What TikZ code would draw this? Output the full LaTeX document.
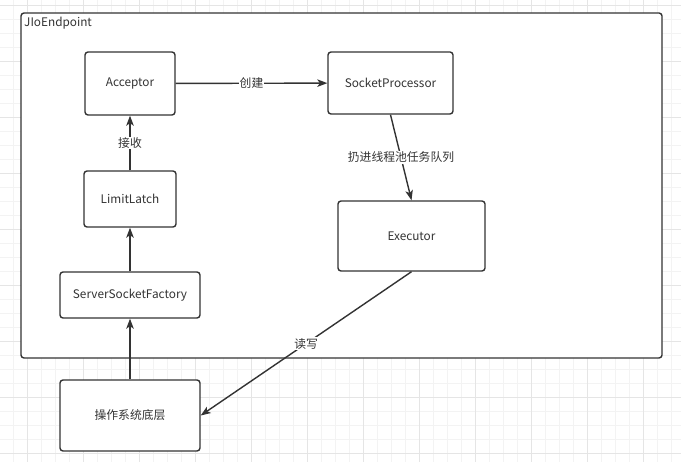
\documentclass[tikz,border=0pt]{standalone}
\usepackage{fontspec}
\setmainfont{Noto Sans CJK SC}
\usepackage{xcolor}
\usetikzlibrary{arrows.meta}
\definecolor{inkgray}{HTML}{333333}
\definecolor{gridminor}{HTML}{F3F3F3}
\definecolor{gridmajor}{HTML}{E5E5E5}
\tikzset{
	box/.style={
			draw=inkgray, line width=1.4bp, rounded corners=3bp, fill=white,
			text=inkgray, inner sep=0pt
		},
	flow/.style={
			draw=inkgray, line width=1.4bp,
			-{Stealth[length=10bp, width=7.5bp, inset=2.5bp]}
		},
	tag/.style={fill=white, text=inkgray, inner sep=1bp}
}

\begin{document}
\begin{tikzpicture}[x=1bp, y=-1bp, font=\fontsize{11.8bp}{14bp}\selectfont]
		\useasboundingbox (0,0) rectangle (681,462);
		\fill [white] (0,0) rectangle (681,462);

		% grid of the canvas
		\foreach \gx in {13,27,...,681} \draw [gridminor, line width=0.8bp] (\gx,0) -- (\gx,462);
		\foreach \gy in {5,19,...,462} \draw [gridminor, line width=0.8bp] (0,\gy) -- (681,\gy);
		\foreach \gx in {27,83,...,681} \draw [gridmajor, line width=0.8bp] (\gx,0) -- (\gx,462);
		\foreach \gy in {5,61,...,462} \draw [gridmajor, line width=0.8bp] (0,\gy) -- (681,\gy);

		\draw [box] (21,13) rectangle (662,358);
		\node [anchor=west, text=inkgray, inner sep=0pt] (title) at (24,23) {JIoEndpoint};

		\node [box, minimum width=90bp, minimum height=63bp]	(acceptor)	at (130,83.5)	{Acceptor};
		\node [box, minimum width=125bp, minimum height=62bp]	(processor)	at (390.5,83)	{SocketProcessor};
		\node [box, minimum width=147bp, minimum height=70bp]	(executor)	at (411.5,236)	{Executor};
		\node [box, minimum width=92bp, minimum height=56bp]	(latch)		at (130,199)	{LimitLatch};
		\node [box, minimum width=140bp, minimum height=46bp]	(factory)	at (130,295)	{ServerSocketFactory};
		\node [box, minimum width=140bp, minimum height=71bp]	(os)		at (130,415.5)	{操作系统底层};

		\draw [flow]	(acceptor) to node [tag]{创建} (processor);
		\draw [flow]	(processor.south) to node [tag]{扔进线程池任务队列} (executor.north);
		\draw [flow]	(latch) to node [tag]{接收} (acceptor);
		\draw [flow]	(factory) to (latch);
		\draw [flow]	(os) to (factory);
		\draw [flow]	(executor.south) to node [tag]{读写} (os.east);
	\end{tikzpicture}
\end{document}
